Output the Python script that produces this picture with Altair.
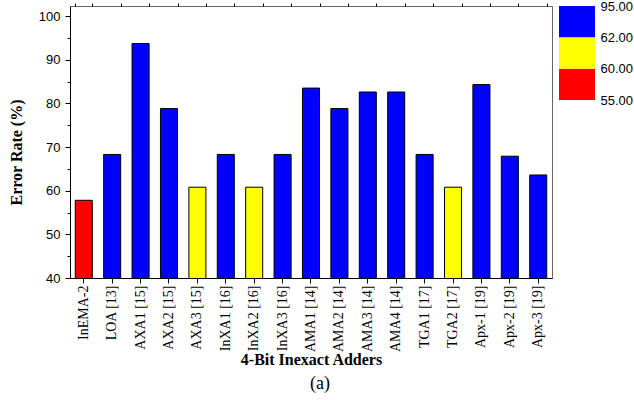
import altair as alt
import pandas as pd

adders = ["InEMA-2", "LOA [13]", "AXA1 [15]", "AXA2 [15]", "AXA3 [15]",
          "InXA1 [16]", "InXA2 [16]", "InXA3 [16]", "AMA1 [14]", "AMA2 [14]",
          "AMA3 [14]", "AMA4 [14]", "TGA1 [17]", "TGA2 [17]", "Apx-1 [19]",
          "Apx-2 [19]", "Apx-3 [19]"]
error_rate = [57.8, 68.3, 93.7, 78.8, 60.8, 68.3, 60.8, 68.3, 83.5, 78.8,
              82.6, 82.6, 68.3, 60.8, 84.3, 67.9, 63.6]

thresholds = [60, 62]
bar_colors = ["#FF0000", "#FFFF00", "#0000FF"]
legend_labels = ["55.00", "60.00", "62.00", "95.00"]

y_major = [40, 50, 60, 70, 80, 90, 100]
y_minor = [45, 55, 65, 75, 85, 95]

df = pd.DataFrame({"adder": adders, "rate": error_rate})

SERIF = "Liberation Serif"
SANS = "Liberation Sans"

x_main = alt.X(
    "adder:N", sort=adders,
    scale=alt.Scale(paddingInner=0.40, paddingOuter=0.185),
    axis=alt.Axis(title="4-Bit Inexact Adders", labelAngle=-90,
                  labelFont=SERIF, labelFontSize=14, labelColor="black",
                  labelPadding=2, tickSize=5, tickColor="black",
                  domainColor="black", titleFont=SERIF, titleFontSize=16,
                  titleFontWeight="bold", titleColor="black", titlePadding=0),
)
y_main = alt.Y(
    "rate:Q",
    scale=alt.Scale(domain=[40, 102.3], nice=False, zero=False),
    axis=alt.Axis(title="Error Rate (%)", values=y_major, grid=False,
                  labelFont=SANS, labelFontSize=13, labelColor="black",
                  labelPadding=5, tickSize=5, tickColor="black",
                  domainColor="black", titleFont=SERIF, titleFontSize=16,
                  titleFontWeight="bold", titleColor="black", titlePadding=14,
                  titleY=146),
)

bars = alt.Chart(df).mark_bar(stroke="black", strokeWidth=1, clip=True).encode(
    x=x_main,
    y=y_main,
    color=alt.Color("rate:Q", scale=alt.Scale(type="threshold", domain=thresholds,
                                              range=bar_colors), legend=None),
)

minor = alt.Chart(df).mark_bar(opacity=0, clip=True).encode(
    x=alt.X("adder:N", sort=adders,
            axis=alt.Axis(title=None, labels=False, domain=False, tickBand="extent",
                          tickSize=3, tickColor="black")),
    y=alt.Y("rate:Q",
            axis=alt.Axis(title=None, orient="left", labels=False, domain=False,
                          values=y_minor, tickSize=3, tickColor="black", grid=False)),
)

main = alt.layer(bars, minor).resolve_axis(x="independent", y="independent").properties(
    width=482, height=272,
    title=alt.TitleParams("(a)", orient="bottom", anchor="middle", font=SERIF,
                          fontSize=18, fontWeight="normal", color="black",
                          dx=9, offset=8),
)

leg_df = pd.DataFrame({
    "k": ["c"] * len(bar_colors),
    "lo": list(range(len(bar_colors))),
    "hi": [i + 1 for i in range(len(bar_colors))],
    "col": bar_colors,
})
label_expr = "[" + ",".join("'" + s + "'" for s in legend_labels) + "][datum.value]"

legend = alt.Chart(leg_df).mark_rect().encode(
    x=alt.X("k:N", scale=alt.Scale(paddingInner=0, paddingOuter=0), axis=None),
    y=alt.Y("lo:Q", scale=alt.Scale(domain=[0, len(bar_colors)], nice=False, zero=True),
            axis=alt.Axis(orient="right", title=None, values=list(range(len(legend_labels))),
                          labelExpr=label_expr, domain=False, ticks=False, grid=False,
                          labelFont=SANS, labelFontSize=13, labelColor="black",
                          labelPadding=5, labelOverlap=False, labelFlush=False)),
    y2="hi:Q",
    color=alt.Color("col:N", scale=None),
).properties(width=36, height=94, view=alt.ViewBackground(strokeWidth=0))

chart = alt.hconcat(main, legend, spacing=6).properties(
    padding={"left": 7, "top": 0, "right": 0, "bottom": 0},
    background="white",
).configure_view(stroke="#666666", strokeWidth=1)

chart.save("out.html", embed_options={"renderer": "svg", "actions": False})
